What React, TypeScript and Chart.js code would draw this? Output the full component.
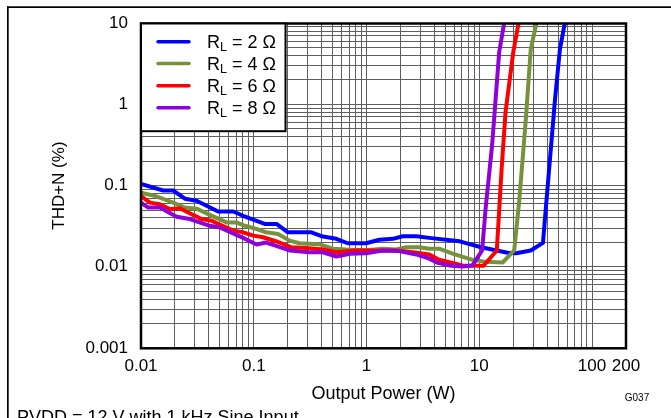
import React, { useEffect, useRef } from 'react';
import { Chart, registerables } from 'chart.js';

Chart.register(...registerables);

// ---- data ----
const SERIES_NAMES = ['2', '4', '6', '8'];
const SERIES_COLORS = ['#0000ff', '#76923c', '#ff0000', '#9000d8'];

const blueX = [0.01, 0.0157, 0.0193, 0.0245, 0.0311, 0.0483, 0.0657, 0.0804, 0.125, 0.159, 0.201, 0.324, 0.41, 0.54, 0.68, 0.99, 1.3, 1.71, 2.1, 2.76, 3.6, 6.7, 10.4, 17.8, 21.2, 28.6, 36.7, 38.3, 47, 51.9, 57.3];
const blueY = [0.105, 0.087, 0.087, 0.069, 0.065, 0.048, 0.048, 0.0425, 0.0337, 0.0337, 0.0266, 0.0266, 0.0236, 0.0221, 0.0195, 0.0195, 0.0215, 0.0221, 0.0238, 0.0238, 0.0227, 0.0206, 0.0174, 0.0149, 0.0147, 0.0159, 0.0197, 0.0405, 1.18, 4.79, 10];

const greenX = [0.01, 0.0133, 0.0193, 0.0245, 0.0311, 0.0394, 0.0574, 0.0703, 0.0833, 0.106, 0.129, 0.164, 0.208, 0.255, 0.38, 0.5, 0.66, 0.99, 1.39, 1.83, 2.25, 2.95, 3.6, 4.4, 5.8, 8.7, 11.4, 16.1, 20.4, 22.6, 25.9, 28.6, 32.1];
const greenY = [0.0817, 0.0745, 0.0617, 0.0536, 0.052, 0.0446, 0.0352, 0.0352, 0.032, 0.0292, 0.0266, 0.0254, 0.021, 0.0195, 0.019, 0.0167, 0.0163, 0.016, 0.0167, 0.0163, 0.0174, 0.0174, 0.0167, 0.0167, 0.0145, 0.0122, 0.0115, 0.0113, 0.0159, 0.0647, 0.67, 4.79, 10];

const redX = [0.01, 0.012, 0.0147, 0.018, 0.0221, 0.0262, 0.0345, 0.0423, 0.05, 0.0657, 0.0804, 0.099, 0.121, 0.159, 0.216, 0.29, 0.41, 0.54, 0.81, 1.22, 1.83, 2.58, 3.6, 4.4, 7.1, 10.9, 14.3, 15.8, 17.1, 20.0, 22.3];
const redY = [0.0745, 0.0617, 0.059, 0.0513, 0.0527, 0.0466, 0.0387, 0.037, 0.033, 0.0279, 0.0266, 0.0242, 0.0231, 0.0205, 0.0174, 0.0171, 0.0163, 0.0151, 0.0159, 0.0159, 0.0159, 0.0151, 0.0142, 0.0122, 0.0104, 0.0103, 0.0159, 0.165, 0.81, 4.36, 10];

const purpleX = [0.01, 0.0116, 0.0147, 0.0207, 0.0271, 0.0408, 0.05, 0.0804, 0.106, 0.129, 0.208, 0.31, 0.41, 0.54, 0.71, 0.99, 1.39, 1.95, 2.76, 3.6, 4.2, 5.4, 7.1, 8.7, 10.6, 11.4, 13.0, 15.0, 16.6];
const purpleY = [0.0617, 0.0536, 0.0536, 0.0413, 0.0387, 0.032, 0.0306, 0.0227, 0.0188, 0.0199, 0.0159, 0.0151, 0.0151, 0.0134, 0.0145, 0.0147, 0.0159, 0.0156, 0.0142, 0.0126, 0.0113, 0.0104, 0.0101, 0.0104, 0.0159, 0.0536, 0.318, 4.36, 10];

const X_LABELED = [0.01, 0.1, 1, 10, 100, 200];
const X_LABEL_TEXT = ['0.01', '0.1', '1', '10', '100', '200'];
const Y_LABELED = [0.001, 0.01, 0.1, 1, 10];
const Y_LABEL_TEXT = ['0.001', '0.01', '0.1', '1', '10'];
const X_DECADES = [0.01, 0.1, 1, 10, 100];
const Y_DECADES = [0.001, 0.01, 0.1, 1];
const MULTIPLIERS = [1, 2, 3, 4, 5, 6, 7, 8, 9];

const X_TITLE = 'Output Power (W)';
const Y_TITLE = 'THD+N (%)';
const FIG_ID = 'G037';
const CAPTION = 'PVDD = 12 V with 1 kHz Sine Input';

const FONT = 'Liberation Sans, Arial, Helvetica, sans-serif';

function gridValues(decades: number[], max: number) {
  const out: number[] = [];
  decades.forEach((d) => MULTIPLIERS.forEach((m) => {
    const v = Number((d * m).toPrecision(6));
    if (v <= max) out.push(v);
  }));
  out.push(max);
  return Array.from(new Set(out));
}

function labelFor(v: number, vals: number[], texts: string[]) {
  for (let i = 0; i < vals.length; i++) {
    if (Math.abs(v / vals[i] - 1) < 1e-6) return texts[i];
  }
  return '';
}

const decoPlugin = {
  id: 'deco',
  beforeDraw(chart: any) {
    const ctx = chart.ctx;
    ctx.save();
    ctx.fillStyle = '#ffffff';
    ctx.fillRect(0, 0, chart.width, chart.height);
    ctx.restore();
  },
  afterDatasetsDraw(chart: any) {
    const ctx = chart.ctx;
    const a = chart.chartArea;
    ctx.save();
    // plot border
    ctx.strokeStyle = '#000';
    ctx.lineWidth = 2.5;
    ctx.strokeRect(a.left, a.top + 0.3, a.right - a.left, a.bottom - a.top);
    // legend box
    const lx = a.left, ly = a.top + 0.3, lw = 144.5, lh = 107.7;
    ctx.fillStyle = '#fff';
    ctx.fillRect(lx, ly, lw, lh);
    ctx.lineWidth = 2;
    ctx.strokeRect(lx, ly, lw, lh);
    const rows = [41.7, 63.5, 85.7, 107.7];
    SERIES_NAMES.forEach((n, i) => {
      const y = rows[i];
      ctx.strokeStyle = SERIES_COLORS[i];
      ctx.lineWidth = 3.5;
      ctx.lineCap = 'round';
      ctx.beginPath();
      ctx.moveTo(158, y);
      ctx.lineTo(189, y);
      ctx.stroke();
      ctx.fillStyle = '#000';
      ctx.textBaseline = 'alphabetic';
      ctx.textAlign = 'left';
      let x = 207;
      ctx.font = `18px ${FONT}`;
      ctx.fillText('R', x, y + 6.5);
      x += ctx.measureText('R').width;
      ctx.font = `12.5px ${FONT}`;
      ctx.fillText('L', x, y + 9.5);
      x += ctx.measureText('L').width;
      ctx.font = `18px ${FONT}`;
      ctx.fillText(` = ${n} \u03A9`, x, y + 6.5);
    });
    ctx.restore();
  },
  afterDraw(chart: any) {
    const ctx = chart.ctx;
    ctx.save();
    ctx.fillStyle = '#000';
    ctx.fillRect(7, 6.3, chart.width - 7, 1.7);
    ctx.fillRect(7, 6.3, 1.7, chart.height);
    ctx.font = `10px ${FONT}`;
    ctx.textAlign = 'center';
    ctx.textBaseline = 'middle';
    ctx.fillText(FIG_ID, 637, 398);
    ctx.font = `18px ${FONT}`;
    ctx.textAlign = 'left';
    ctx.textBaseline = 'alphabetic';
    ctx.fillText(CAPTION, 17, 423);
    ctx.restore();
  },
};

export default function App() {
  const ref = useRef<HTMLCanvasElement | null>(null);
  useEffect(() => {
    document.body.style.margin = '0';
    const canvas = ref.current;
    if (!canvas) return;
    const mk = (xs: number[], ys: number[]) => xs.map((x, i) => ({ x, y: ys[i] }));
    const all = [mk(blueX, blueY), mk(greenX, greenY), mk(redX, redY), mk(purpleX, purpleY)];
    const xGrid = gridValues(X_DECADES, 200);
    const yGrid = gridValues(Y_DECADES, 10);
    const chart = new Chart(canvas, {
      type: 'line',
      data: {
        datasets: all.map((d, i) => ({
          label: `RL = ${SERIES_NAMES[i]}`,
          data: d,
          borderColor: SERIES_COLORS[i],
          backgroundColor: SERIES_COLORS[i],
          borderWidth: 4,
          pointRadius: 0,
          tension: 0,
          fill: false,
          borderJoinStyle: 'round' as const,
          order: 4 - i,
        })),
      },
      options: {
        responsive: false,
        animation: false,
        devicePixelRatio: 1,
        layout: { padding: { left: 0, right: 45, top: 20, bottom: 0 } },
        plugins: { legend: { display: false }, tooltip: { enabled: false } },
        font: { family: FONT },
        scales: {
          x: {
            type: 'logarithmic',
            min: 0.01,
            max: 200,
            afterBuildTicks: (axis: any) => { axis.ticks = xGrid.map((v) => ({ value: v })); },
            afterFit: (axis: any) => { axis.height = 70; },
            grid: { color: '#5e5e5e', lineWidth: 1, drawTicks: false },
            border: { display: false },
            ticks: {
              autoSkip: false,
              maxRotation: 0,
              minRotation: 0,
              padding: 8,
              color: '#000',
              font: { family: FONT, size: 17 },
              callback: (v: any) => labelFor(Number(v), X_LABELED, X_LABEL_TEXT),
            },
            title: {
              display: true,
              text: X_TITLE,
              color: '#000',
              font: { family: FONT, size: 18 },
              padding: { top: 0, bottom: 13 },
            },
          },
          y: {
            type: 'logarithmic',
            min: 0.001,
            max: 10,
            afterBuildTicks: (axis: any) => { axis.ticks = yGrid.map((v) => ({ value: v })); },
            afterFit: (axis: any) => { axis.width = 141; },
            grid: { color: '#5e5e5e', lineWidth: 1, drawTicks: false },
            border: { display: false },
            ticks: {
              autoSkip: false,
              padding: 13,
              color: '#000',
              font: { family: FONT, size: 17 },
              callback: (v: any) => labelFor(Number(v), Y_LABELED, Y_LABEL_TEXT),
            },
            title: {
              display: true,
              text: Y_TITLE,
              color: '#000',
              font: { family: FONT, size: 17 },
              padding: { top: 49, bottom: 0 },
            },
          },
        },
      } as any,
      plugins: [decoPlugin],
    });
    return () => chart.destroy();
  }, []);
  return <canvas ref={ref} width={671} height={418} style={{ display: 'block', width: 671, height: 418 }} />;
}
